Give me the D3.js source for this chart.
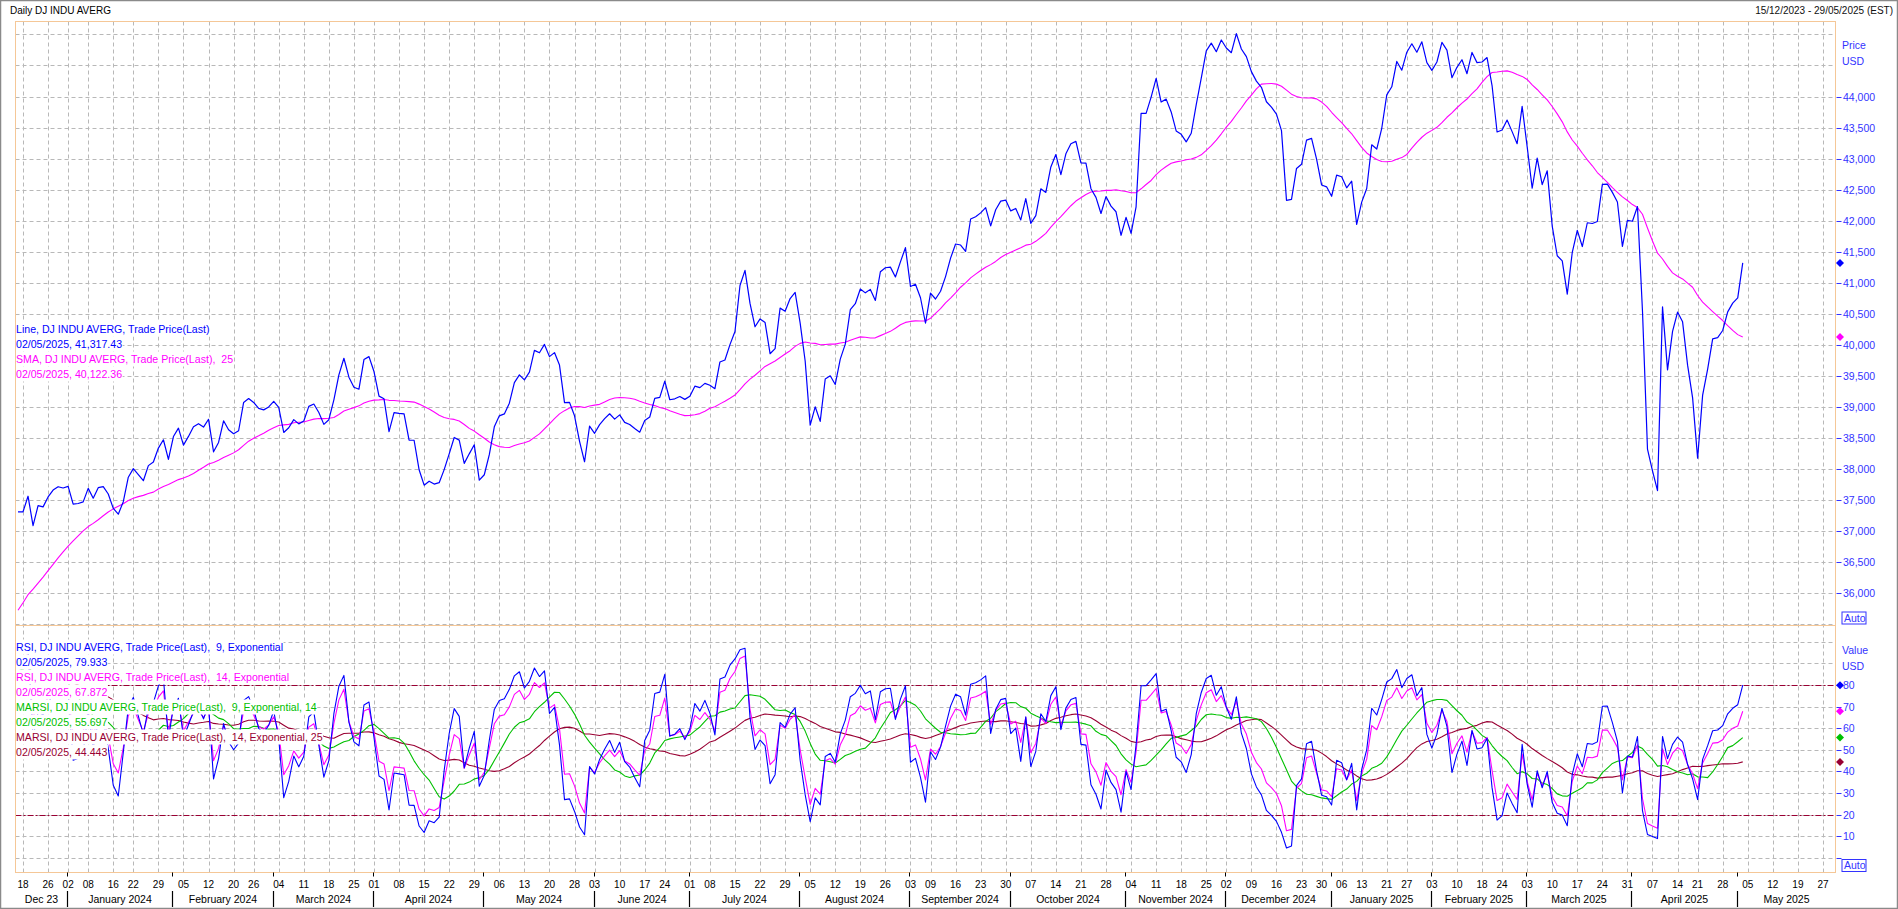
<!DOCTYPE html>
<html><head><meta charset="utf-8">
<script src="https://cdn.jsdelivr.net/npm/d3@7"></script>
<style>
body{margin:0;background:#fff;overflow:hidden;}
svg{display:block;font-family:"Liberation Sans",Arial,sans-serif;}
text{white-space:pre;}
</style>
</head><body><svg id="c" width="1898" height="909"></svg>
<script>
// ---------------- DATA ----------------
const holidays = ["2023-11-23","2023-12-25","2024-01-01","2024-01-15","2024-02-19","2024-03-29","2024-05-27","2024-06-19","2024-07-04","2024-09-02","2024-11-28","2024-12-25","2025-01-01","2025-01-09","2025-01-20","2025-02-17","2025-04-18","2025-05-26"];
const calendarStart = "2023-10-02", firstShownDay = "2023-12-15", axisLastDay = "2025-05-29";
// warm-up closes (Oct 2 .. Dec 14 2023), only used to seed the indicators
const warmupCloses = [33433,33002,33129,33119,33407,33604,33739,33804,33631,33670,33985,33997,33665,33415,33127,32937,33141,33036,32785,32418,32929,33053,
33275,33839,34061,34096,34153,34112,33892,34283,34338,34828,34991,34945,34947,35151,35088,35273,35390,35334,35417,35430,35951,
36246,36204,36125,36055,36118,36248,36405,36577,37090,37248];
// daily closes Dec 15 2023 .. May 2 2025
const closes = [
37305,37306,37557,37082,37404,37385,37545,37656,37710,37690,
37715,37430,37440,37466,37683,37525,37695,37711,37593,37361,37267,37469,37863,38001,37905,37807,38050,38109,38333,38467,38150,
38519,38654,38380,38521,38677,38726,38671,38797,38273,38424,38773,38628,38564,38612,39069,39131,39069,38972,38949,38996,
39087,38990,38585,38661,38791,38723,38770,39005,39043,38906,38715,38790,39110,39512,39781,39476,39313,39282,39760,39807,
39567,39170,39127,38597,38904,38892,38883,38462,38459,37983,37735,37799,37753,37775,37986,38240,38504,38461,38086,38240,38386,37816,
37903,38226,38676,38852,38884,39056,39388,39513,39432,39558,39908,39869,40004,39807,39872,39671,39065,39070,38853,38442,38112,38686,
38571,38711,38807,38886,38799,38868,38747,38712,38647,38589,38778,38834,39134,39150,39411,39112,39127,39164,39118,
39170,39331,39308,39376,39345,39291,39721,39753,40001,40212,40954,41198,40665,40288,40415,40358,39854,39935,40589,40540,40743,40843,
40348,39737,38703,38998,38763,39447,39498,39358,39766,40009,40563,40660,40897,40835,40891,40713,41175,41240,41250,41091,41335,41563,
40937,40975,40756,40345,40830,40736,40861,41097,41394,41622,41606,41504,42025,42063,42124,42208,41915,42175,42313,42330,
42156,42196,42011,42353,41954,42080,42512,42454,42864,43065,42740,43077,43239,43276,42931,42925,42514,42374,42114,42387,42233,42142,41763,
42052,41795,42222,43729,43729,43989,44293,43911,43958,43751,43445,43390,43269,43408,43870,44297,44736,44860,44722,44911,
44782,44706,45014,44766,44643,44401,44248,44149,43915,43828,43717,43450,42327,42342,42840,42907,43297,43326,42992,42574,42544,
42392,42732,42707,42528,42636,41938,42297,42518,43222,43153,43488,44026,44157,44565,44424,44714,44850,44714,44882,44545,
44422,44556,44873,44748,44303,44470,44593,44368,44711,44546,44556,44628,44177,43428,43461,43621,43434,43239,43841,
43191,42521,43007,42579,42802,41912,41433,41351,40814,41489,41842,41582,41965,41953,41985,42583,42588,42455,42300,41584,42002,
41989,42226,40546,38315,37966,37646,40609,39594,40213,40525,40368,39669,39142,38170,39187,39607,40093,40114,40228,40528,40669,
40753,41317];
const smaPeriod = 25;
const rsiPeriods = [9, 14];
const marsiPeriods = [14, 25];
const priceTicks = [36000,36500,37000,37500,38000,38500,39000,39500,40000,40500,41000,41500,42000,42500,43000,43500,44000];
const priceGrid = [35500,36000,36500,37000,37500,38000,38500,39000,39500,40000,40500,41000,41500,42000,42500,43000,43500,44000,44500,45000];
const rsiTicks = [10,20,30,40,50,60,70,80];
const rsiGrid = [0,10,20,30,40,50,60,70,80,90,100];
const rsiLevels = [80, 20];
const monthNames = ["January","February","March","April","May","June","July","August","September","October","November","December"];
const monthShort = ["Jan","Feb","Mar","Apr","May","Jun","Jul","Aug","Sep","Oct","Nov","Dec"];
const titleText = "Daily DJ INDU AVERG";
const rangeText = "15/12/2023 - 29/05/2025 (EST)";
const priceLegend = ["Line, DJ INDU AVERG, Trade Price(Last)","02/05/2025, 41,317.43","SMA, DJ INDU AVERG, Trade Price(Last),  25","02/05/2025, 40,122.36"];
const rsiLegend = ["RSI, DJ INDU AVERG, Trade Price(Last),  9, Exponential","02/05/2025, 79.933","RSI, DJ INDU AVERG, Trade Price(Last),  14, Exponential","02/05/2025, 67.872","MARSI, DJ INDU AVERG, Trade Price(Last),  9, Exponential, 14","02/05/2025, 55.697","MARSI, DJ INDU AVERG, Trade Price(Last),  14, Exponential, 25","02/05/2025, 44.443"];

const C = {blue:"#0000ff", mag:"#ff00ff", green:"#00c000", red:"#990033", axis:"#3333ff", frame:"#f5c797", grid:"#b8b8b8"};

// ---------------- TRADING CALENDAR ----------------
const cal = [];
{
  const end = new Date(axisLastDay + "T00:00:00Z");
  for (let d = new Date(calendarStart + "T00:00:00Z"); d <= end; d.setUTCDate(d.getUTCDate()+1)) {
    const wd = d.getUTCDay(); if (wd===0||wd===6) continue;
    const s = d.toISOString().slice(0,10); if (holidays.includes(s)) continue;
    cal.push(s);
  }
}
const k0 = cal.indexOf(firstShownDay);
const allCloses = warmupCloses.concat(closes);
const lastIdx = cal.length - 1 - k0;

// ---------------- INDICATORS ----------------
function rsi(vals, n){
  const alpha = 2/(n+1);
  const out = new Array(vals.length).fill(null);
  let g=0,l=0;
  for (let i=1;i<=n;i++){const d=vals[i]-vals[i-1]; g+=Math.max(d,0); l+=Math.max(-d,0);}
  g/=n; l/=n; out[n]=100-100/(1+g/l);
  for (let i=n+1;i<vals.length;i++){const d=vals[i]-vals[i-1]; g=g+alpha*(Math.max(d,0)-g); l=l+alpha*(Math.max(-d,0)-l); out[i]= l===0?100:100-100/(1+g/l);}
  return out;
}
function smaOf(vals, n){ return vals.map((v,i)=>{ if(i<n-1) return null; const w=vals.slice(i-n+1,i+1); return w.some(z=>z==null)?null:d3.mean(w); }); }
const sma = smaOf(allCloses, smaPeriod);
const rsi9 = rsi(allCloses, rsiPeriods[0]);
const rsi14 = rsi(allCloses, rsiPeriods[1]);
const ma9 = smaOf(rsi9, marsiPeriods[0]);
const ma14 = smaOf(rsi14, marsiPeriods[1]);

// ---------------- LAYOUT ----------------
const svg = d3.select("#c");
const L=15.5, R=1835.5, PT=21.5, PB=625.5, RB=872.5;
const x = d3.scaleLinear().domain([-0.5, lastIdx+0.5]).range([L, R]);
const yP = d3.scaleLinear().domain([35473, 45209]).range([PB, PT]);
const yR = d3.scaleLinear().domain([-6.7, 107.5]).range([RB, PB]);

svg.append("rect").attr("x",0.5).attr("y",0.5).attr("width",1897).attr("height",908).attr("fill","#fff").attr("stroke","#8a8a8a").attr("stroke-width",1.5);
svg.append("text").attr("x",10).attr("y",14).attr("font-size",10).attr("fill","#000").text(titleText);
svg.append("text").attr("x",1893).attr("y",14).attr("font-size",10).attr("text-anchor","end").attr("fill","#101010").text(rangeText);

const weekTicks=[], monthStarts=[];
for (let k=k0+1;k<cal.length;k++){
  const a=new Date(cal[k-1]+"T00:00:00Z"), b=new Date(cal[k]+"T00:00:00Z");
  if (b.getUTCDay() <= a.getUTCDay() || (b-a) >= 7*864e5) weekTicks.push({i:k-k0, d:b.getUTCDate()});
  if (b.getUTCMonth() !== a.getUTCMonth()) monthStarts.push({i:k-k0, m:b.getUTCMonth(), y:b.getUTCFullYear()});
}

const grid = svg.append("g").attr("stroke",C.grid).attr("stroke-dasharray","4,3").attr("stroke-width",1);
weekTicks.forEach(t=>{ const xx=Math.round(x(t.i))+0.5; grid.append("line").attr("x1",xx).attr("x2",xx).attr("y1",PT).attr("y2",RB); });
priceGrid.forEach(v=>{ const yy=Math.round(yP(v))+0.5; grid.append("line").attr("x1",L).attr("x2",R).attr("y1",yy).attr("y2",yy); });
rsiGrid.forEach(v=>{ const yy=Math.round(yR(v))+0.5; grid.append("line").attr("x1",L).attr("x2",R).attr("y1",yy).attr("y2",yy); });

svg.append("clipPath").attr("id","cp").append("rect").attr("x",L).attr("y",PT).attr("width",R-L).attr("height",PB-PT);
svg.append("clipPath").attr("id","cr").append("rect").attr("x",L).attr("y",PB).attr("width",R-L).attr("height",RB-PB);

rsiLevels.forEach(v=>{ const yy=Math.round(yR(v))+0.5; svg.append("line").attr("x1",L).attr("x2",R).attr("y1",yy).attr("y2",yy).attr("stroke",C.red).attr("stroke-dasharray","6,2,2,2").attr("stroke-width",1); });

function series(arr){ const pts=[]; for(let k=k0;k<allCloses.length;k++){ if(arr[k]!=null) pts.push([k-k0, arr[k]]);} return pts; }
const gp = svg.append("g").attr("clip-path","url(#cp)");
const gr = svg.append("g").attr("clip-path","url(#cr)");
function draw(g, pts, ys, col, w){ g.append("path").attr("d", d3.line().x(d=>x(d[0])).y(d=>ys(d[1]))(pts)).attr("fill","none").attr("stroke",col).attr("stroke-width",w).attr("stroke-linejoin","round"); }
draw(gp, series(sma), yP, C.mag, 1.1);
draw(gp, series(allCloses), yP, C.blue, 1.2);
draw(gr, series(ma14), yR, C.red, 1.1);
draw(gr, series(ma9), yR, C.green, 1.1);
draw(gr, series(rsi14), yR, C.mag, 1.1);
draw(gr, series(rsi9), yR, C.blue, 1.1);

svg.append("rect").attr("x",L).attr("y",PT).attr("width",R-L).attr("height",PB-PT).attr("fill","none").attr("stroke",C.frame);
svg.append("rect").attr("x",L).attr("y",PB).attr("width",R-L).attr("height",RB-PB).attr("fill","none").attr("stroke",C.frame);

function legend(lines, colors, y0){
  const g=svg.append("g").attr("font-size",10.6);
  const ts = lines.map((s,i)=> g.append("text").attr("x",16).attr("y",y0+i*15).attr("dy","0.35em").attr("fill",colors[i]).text(s));
  ts.forEach((t,i)=>{ const b=t.node().getBBox(); g.insert("rect","text").attr("x",L+0.5).attr("y",y0+i*15-7.5).attr("width",b.x+b.width-L).attr("height",15).attr("fill","#fff"); });
}
legend(priceLegend, [C.blue,C.blue,C.mag,C.mag], 329);
legend(rsiLegend, [C.blue,C.blue,C.mag,C.mag,C.green,C.green,C.red,C.red], 647);

const ax = svg.append("g").attr("font-size",10.5).attr("fill",C.axis);
function rightAxis(ticks, ys, fmt){
  ticks.forEach(v=>{ const yy=Math.round(ys(v))+0.5;
    ax.append("line").attr("x1",R+1).attr("x2",R+6).attr("y1",yy).attr("y2",yy).attr("stroke",C.axis);
    ax.append("text").attr("x",R+7.5).attr("y",yy).attr("dy","0.35em").text(fmt(v)); });
}
rightAxis(priceTicks, yP, d3.format(","));
rightAxis(rsiTicks, yR, d3.format("d"));
ax.append("line").attr("x1",R+1).attr("x2",R+6).attr("y1",Math.round(yR(0))+0.5).attr("y2",Math.round(yR(0))+0.5).attr("stroke",C.axis);
[["Price",45],["USD",61],["Value",650],["USD",666]].forEach(d=> ax.append("text").attr("x",R+6.5).attr("y",d[1]).attr("dy","0.35em").text(d[0]));
[[PB-13.5],[RB-13]].forEach(d=>{ ax.append("rect").attr("x",R+6.5).attr("y",d[0]).attr("width",24).attr("height",12).attr("fill","#fff").attr("stroke",C.axis);
  ax.append("text").attr("x",R+8.5).attr("y",d[0]+6).attr("dy","0.35em").text("Auto"); });

function diamond(v, ys, col){ const cx=R+4.5, cy=ys(v); svg.append("path").attr("d",`M${cx},${cy-4}L${cx+4},${cy}L${cx},${cy+4}L${cx-4},${cy}Z`).attr("fill",col); }
const last = allCloses.length-1;
diamond(allCloses[last], yP, C.blue); diamond(sma[last], yP, C.mag);
diamond(rsi9[last], yR, C.blue); diamond(rsi14[last], yR, C.mag); diamond(ma9[last], yR, C.green); diamond(ma14[last], yR, C.red);

const bx = svg.append("g").attr("font-size",10);
weekTicks.forEach(t=> bx.append("text").attr("x",x(t.i)).attr("y",884).attr("dy","0.35em").attr("text-anchor","middle").attr("fill","#000").text(String(t.d).padStart(2,"0")));
const seps = monthStarts.map(m=> Math.round(x(m.i))-0.5);
monthStarts.forEach((m,j)=>{ svg.append("line").attr("x1",seps[j]).attr("x2",seps[j]).attr("y1",RB).attr("y2",RB+4).attr("stroke","#000");
  svg.append("line").attr("x1",seps[j]).attr("x2",seps[j]).attr("y1",891).attr("y2",907).attr("stroke","#000").attr("stroke-width",1.2); });
const bounds=[L].concat(seps,[R]);
const firstDate = new Date(firstShownDay+"T00:00:00Z");
const segs=[{m:firstDate.getUTCMonth(), y:firstDate.getUTCFullYear()}].concat(monthStarts);
segs.forEach((s,j)=>{ const a=bounds[j], b=bounds[j+1];
  const t=bx.append("text").attr("x",(a+b)/2).attr("y",899).attr("dy","0.35em").attr("text-anchor","middle").attr("font-size",10.5).attr("fill","#000").text(monthNames[s.m]+" "+s.y);
  if (t.node().getComputedTextLength() > b-a-6) t.text(monthShort[s.m]+" "+String(s.y).slice(2)); });
</script></body></html>
